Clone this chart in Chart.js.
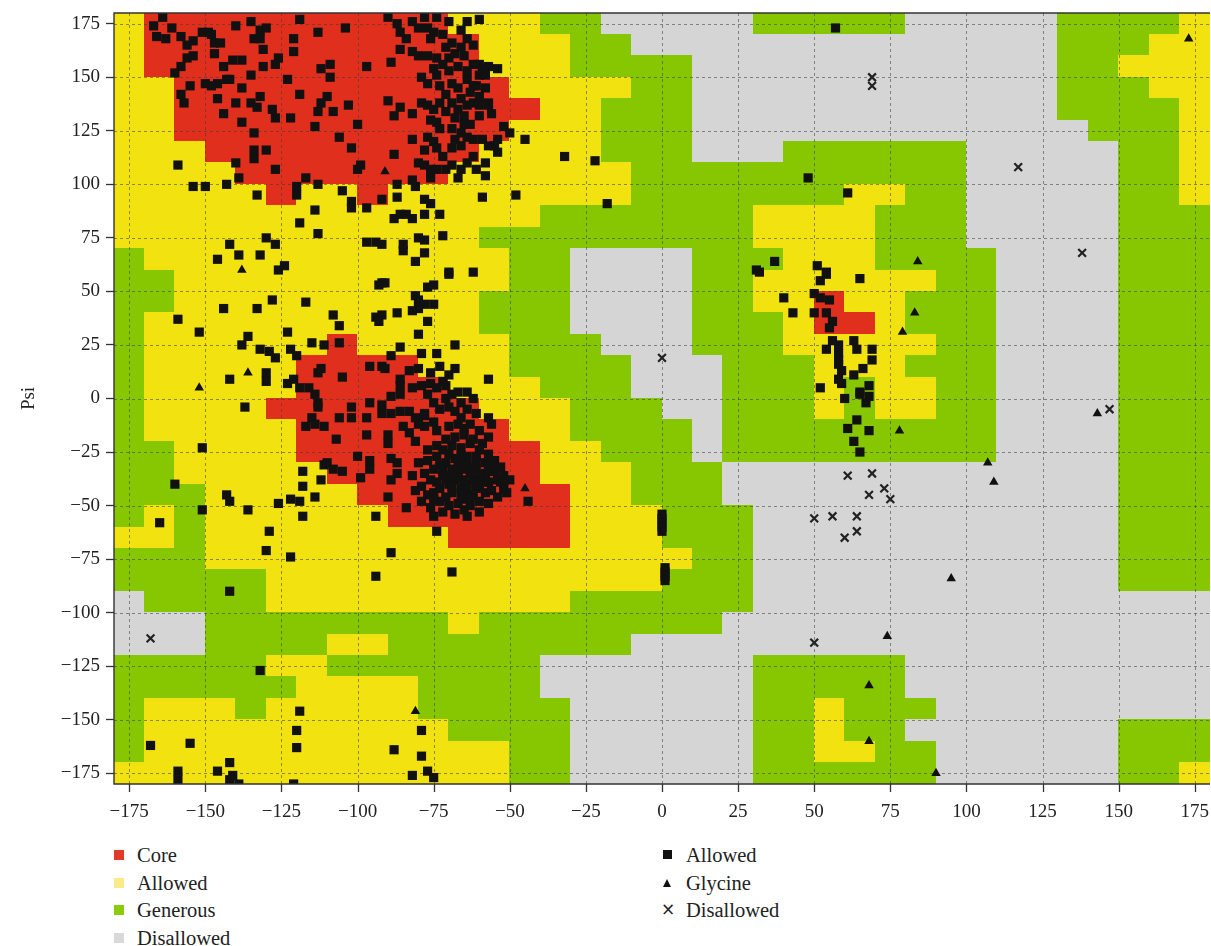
<!DOCTYPE html>
<html>
<head>
<meta charset="utf-8">
<script src="https://cdn.jsdelivr.net/npm/chart.js@4.4.0/dist/chart.umd.min.js"></script>
<style>
  html, body { margin: 0; padding: 0; background: #fff; }
  #wrap { position: relative; width: 1211px; height: 946px; overflow: hidden;
          font-family: "Liberation Serif", "DejaVu Serif", serif; color: #222; }
  #chart { position: absolute; left: 0; top: 0; }
  .lg-text { position: absolute; font-size: 20.5px; line-height: 22px; white-space: nowrap; }
  .lg-sw { position: absolute; width: 10px; height: 10px; }
</style>
</head>
<body>
<div id="wrap">
  <canvas id="chart" width="1211" height="830"></canvas>
  <div id="legend"></div>
</div>
<script>
// Axis ticks (degrees)
const tickValues = [-175, -150, -125, -100, -75, -50, -25, 0, 25, 50, 75, 100, 125, 150, 175];

// Region map: 10-degree cells, rows run from psi 180 (top) down to -180,
// columns from phi -180 to 180.  R core, Y allowed, G generous, D disallowed.
const cellSize = 10;
const regionRows = [
  "YRRRRRRRRRRYYYGGDDDDDGGGGGDDDDDGGGGY",
  "YRRRRRRRRRRRYYYGGDDDDDDDDDDDDDDGGGYY",
  "YRRRRRRRRRRRYYYGGGGDDDDDDDDDDDDGGYYY",
  "YYRRRRRRRRRRRYYYYGGDDDDDDDDDDDDGGGYY",
  "YYRRRRRRRRRRRRYYGGGDDDDDDDDDDDDGGGGY",
  "YYRRRRRRRRRRRYYYGGGDDDDDDDDDDDDDGGGY",
  "YYYRRRRRRRRRYYYYGGGDDDGGGGGGDDDDDGGY",
  "YYYYRRRRRRRYYYYYYGGGGGGGGGGGDDDDDGGY",
  "YYYYYRYYRYYYYYYYYGGGGGGGYYGGDDDDDGGY",
  "YYYYYYYYYYYYYYGGGGGGGYYYYGGGDDDDDGGG",
  "YYYYYYYYYYYYGGGGGGGGGYYYYGGGDDDDDGGG",
  "GYYYYYYYYYYYYGGDDDDGGGYYYGGGGDDDDGGG",
  "GGYYYYYYYYYYYGGDDDDGGYYYYYYGGDDDDGGG",
  "GGYYYYYYYYYYGGGDDDDGGYYRYYGGGDDDDGGG",
  "GYYYYYYYYYYYGGGDDDDGGGYRRYGGGDDDDGGG",
  "GYYYYYYRYYYYYGGGDDDGGGYYYYYGGDDDDGGG",
  "GYYYYYRRRRYYYGGGGDDDGGGYYYGGGDDDDGGG",
  "GYYYYYRRRRRYYYGGGDDDGGGYGYYGGDDDDGGG",
  "GYYYYRRRRRRRYYYGGGDDGGGYGYYGGDDDDGGG",
  "GYYYYYRRRRRRRYYGGGGDGGGGGGGGGDDDDGGG",
  "GGYYYYRRRRRRRRYYGGGDGGGGGGGGGDDDDGGG",
  "GGYYYYYRRRRRRRYYYGGGDDDDDDDDDDDDDGGG",
  "GGGYYYYYRRRRRRRYYGGGDDDDDDDDDDDDDGGG",
  "GYGYYYYYYRRRRRRYYYGGGDDDDDDDDDDDDGGG",
  "YYGYYYYYYYYRRRRYYYGGGDDDDDDDDDDDDGGG",
  "GGGYYYYYYYYYYYYYYYYGGDDDDDDDDDDDDGGG",
  "GGGGGYYYYYYYYYYYYYGGGDDDDDDDDDDDDGGG",
  "DGGGGYYYYYYYYYYGGGGGGDDDDDDDDDDDDDDD",
  "DDDGGGGGGGGYGGGGGGGGDDDDDDDDDDDDDDDD",
  "DDDGGGGYYGGGGGGGGDDDDDDDDDDDDDDDDDDD",
  "GGGGGYYGGGGGGGDDDDDDDGGGGGDDDDDDDDDD",
  "GGGGGGYYYYGGGGDDDDDDDGGGGGDDDDDDDDDD",
  "GYYYGYYYYYGGGGGDDDDDDGGYGGGDDDDDDDDD",
  "GYYYYYYYYYYGGGGDDDDDDGGYGGDDDDDDDGGG",
  "GYYYYYYYYYYYYGGDDDDDDGGYYGGDDDDDDGGG",
  "YYYYYYYYYYYYYGGDDDDDDGGGGGGDDDDDDGGY"
];
const regionColors = { R: "#e12f1d", Y: "#f2e20f", G: "#86c701", D: "#d5d5d5" };

// Residues: [phi, psi]
const allowedResidues = [
  [-164,178],[-167,174],[-161,173],[-166,169],[-163,168],[-158,169],[-154,167],[-151,171],[-149,171],[-148,170],
  [-147,166],[-145,166],[-140,174],[-135,176],[-132,172],[-130,173],[-134,168],[-132,168],[-131,163],[-121,168],
  [-121,162],[-113,171],[-104,173],[-87,175],[-74,178],[-80,173],[-77,173],[-75,171],[-72,170],[-84,168],
  [-60,177],[-76,168],[-90,178],[-86,171],[-82,176],[-78,178],[-70,176],[-66,172],[-64,176],[-119,177],
  [-156,165],[-154,160],[-156,159],[-158,155],[-160,152],[-147,161],[-144,155],[-141,158],[-138,158],[-131,155],
  [-126,159],[-127,156],[-86,163],[-82,162],[-80,160],[-77,160],[-74,159],[-70,159],[-68,161],[-65,160],
  [-97,155],[-89,157],[-62,156],[-112,154],[-109,156],[-109,150],[-123,149],[-135,151],
  [-143,149],[-146,147],[-148,146],[-150,147],[-155,146],[-158,142],[-157,138],[-146,140],[-142,149],[-140,138],
  [-138,145],[-132,141],[-135,138],[-133,136],[-128,135],[-127,131],[-122,131],[-119,142],[-112,138],[-110,141],
  [-108,134],[-113,134],[-103,137],[-90,139],[-86,136],[-88,132],[-82,133],
  [-79,150],[-74,151],[-73,146],[-69,147],[-67,145],[-64,149],[-62,146],
  [-79,138],[-77,137],[-75,135],[-73,138],[-69,138],[-67,135],[-64,137],[-62,138],
  [-76,130],[-74,129],[-68,131],[-65,132],[-63,128],[-69,126],[-66,124],[-64,122],[-62,121],
  [-82,121],[-77,122],[-75,120],[-74,117],[-69,117],[-66,118],
  [-71,164],[-69,166],[-66,164],[-64,168],[-62,165],[-67,155],[-70,153],[-72,156],[-64,153],[-75,154],
  [-77,147],[-71,142],[-66,140],[-63,143],[-60,132],[-65,128],[-71,134],[-73,126],[-68,121],[-62,113],
  [-58,110],[-61,107],[-58,104],[-72,113],[-78,116],
  [-100,128],[-106,122],[-102,117],[-114,127],[-138,129],[-144,133],[-134,124],[-134,116],[-130,116],[-134,112],
  [-140,110],[-139,103],[-143,100],[-150,99],[-154,99],[-159,109],[-127,107],[-117,103],[-113,100],[-120,99],
  [-99,109],[-100,107],[-88,114],
  [-80,110],[-78,109],[-76,107],[-74,107],[-71,107],[-69,109],[-66,107],[-64,110],
  [-87,100],[-82,102],[-81,99],[-76,103],[-67,103],
  [-133,95],[-120,95],[-114,88],[-119,82],[-113,77],[-130,75],[-127,72],[-142,72],[-139,67],[-146,65],
  [-132,67],[-126,60],[-124,62],[-105,97],[-102,92],[-102,89],[-97,89],[-92,93],[-97,73],[-94,73],
  [-92,72],[-88,84],[-86,86],[-84,86],[-82,84],[-87,94],[-78,93],[-76,91],[-78,86],[-73,86],
  [-80,75],[-78,74],[-85,72],[-85,69],[-78,68],[-81,64],[-72,76],[-70,59],
  [-60,156],[-59,154],[-57,155],[-54,154],[-60,151],[-58,151],[-61,146],[-58,145],[-60,141],[-57,138],
  [-57,137],[-56,133],[-60,137],[-52,127],[-50,124],[-45,121],[-54,121],[-55,118],[-54,115],[-59,121],
  [-57,118],[-32,113],[-22,111],[-59,94],[-48,95],[-18,91],
  [57,173],[48,103],[61,96],[37,64],[31,60],[51,62],[54,59],[65,56],
  [-92,54],[-91,54],[-93,53],[-70,58],[-62,59],[-77,52],[-75,53],[-81,48],[-80,46],[-78,44],
  [-75,44],[-82,41],[-80,42],[-77,36],[-80,30],[-87,40],[-92,39],[-94,38],[-93,36],[-108,39],
  [-106,34],[-117,45],[-128,46],[-133,42],[-144,42],[-159,37],[-152,31],[-136,29],[-138,25],[-132,23],
  [-129,22],[-127,19],[-123,31],[-122,23],[-120,20],[-115,26],[-111,25],[-106,26],[-86,24],[-68,25],
  [-79,21],[-74,21],[-89,20],
  [-142,9],[-130,12],[-130,8],[-123,7],[-121,9],[-119,5],[-116,5],[-113,12],[-112,14],[-105,10],
  [-96,15],[-92,15],[-91,14],[-83,13],[-80,14],[-86,9],[-86,6],[-82,5],[-79,6],[-76,7],
  [-74,5],[-71,6],[-69,2],[-64,3],
  [-137,-4],[-114,2],[-113,-2],[-113,-4],[-102,-4],[-102,-9],[-97,-9],[-96,-2],[-92,-3],[-89,1],
  [-86,2],[-92,-7],[-89,-7],[-86,-6],[-83,-6],[-81,-9],[-78,-7],
  [-115,-9],[-117,-13],[-114,-12],[-111,-13],[-106,-9],[-107,-19],[-97,-17],[-90,-17],[-85,-13],[-83,-16],
  [-81,-20],[-78,-13],[-75,-11],[-74,-15],[-70,-13],[-67,-12],[-65,-14],
  [-151,-23],[-160,-40],[-118,-34],[-118,-41],[-112,-38],[-114,-46],[-111,-31],[-110,-30],[-108,-33],[-105,-34],
  [-100,-27],[-96,-29],[-96,-33],[-99,-37],[-90,-21],[-89,-28],[-87,-30],[-89,-38],[-87,-35],[-90,-46],
  [-94,-55],[-84,-51],[-75,-55],[-74,-62],[-65,-52],[-143,-45],[-142,-48],[-136,-52],[-151,-52],[-165,-58],
  [-126,-49],[-122,-47],[-119,-48],[-118,-55],[-129,-62],
  [-77,2],[-75,-2],[-73,-5],[-71,0],[-70,-4],[-68,-6],[-66,-2],[-64,-5],[-62,0],[-67,3],
  [-72,8],[-70,11],[-68,14],[-73,15],[-76,12],[-78,-8],[-80,-12],[-66,-9],[-61,-7],[-63,-12],
  [-60,-15],[-57,-18],[-56,-12],
  [-70,-40],[-68,-38],[-66,-42],[-64,-40],[-62,-38],[-60,-41],[-72,-36],[-74,-39],[-67,-35],[-65,-33],
  [-63,-35],[-61,-33],[-59,-36],[-69,-44],[-71,-46],[-65,-47],[-62,-45],[-58,-44],[-57,-39],[-73,-42],
  [-76,-38],[-75,-33],[-71,-30],[-68,-28],[-66,-31],[-64,-27],[-61,-29],[-58,-30],[-55,-34],[-54,-38],
  [-56,-43],[-60,-48],[-63,-50],[-67,-49],[-70,-50],[-73,-48],[-77,-45],[-79,-41],[-78,-35],[-77,-29],
  [-74,-27],[-72,-24],[-69,-22],[-66,-23],[-63,-21],[-60,-24],[-57,-26],[-55,-29],[-53,-32],[-52,-36],
  [-67,-37],[-69,-33],[-71,-38],[-64,-43],[-62,-32],[-66,-45],[-59,-39],[-61,-27],[-75,-44],[-73,-31],
  [-70,-26],[-68,-18],[-65,-17],[-62,-19],[-59,-21],[-71,-19],[-74,-22],[-77,-24],[-80,-30],[-82,-36],
  [-81,-43],[-79,-48],[-76,-51],[-72,-53],[-68,-54],[-64,-55],[-60,-53],[-57,-49],[-54,-46],[-52,-42],
  [-50,-38],[-63,-46],[-67,-32],[-65,-38],[-61,-42],[-69,-41],[-58,-35],[-72,-34],[-66,-27],[-75,-47],
  [-64,-31],[-60,-36],[-70,-36],
  [32,59],[40,47],[43,40],[50,40],[54,40],[50,49],[52,47],[55,46],[52,55],[54,58],
  [55,33],[56,36],[56,27],[58,25],[54,23],[58,16],[58,9],[52,5],[60,0],[-57,9],
  [-57,-9],[-52,-41],[-51,-44],[-53,-39],[-57,-34],[-56,-30],[-44,-48],
  [0,-54],[0,-56],[0,-58],[0,-60],[0,-62],[1,-79],[1,-81],[1,-83],[1,-85],
  [63,27],[64,23],[69,23],[69,18],[66,14],[63,11],[68,6],[65,3],[65,2],[68,1],
  [67,-2],[59,7],[59,13],[58,21],[58,18],[64,-10],[61,-14],[68,-15],[63,-20],[65,-25],
  [-130,-71],[-122,-74],[-89,-72],[-69,-81],[-94,-83],[-142,-90],[-132,-127],[-119,-146],[-120,-155],[-120,-163],
  [-79,-155],[-88,-164],[-79,-167],[-82,-176],[-77,-174],[-75,-177],[-168,-162],[-155,-161],[-159,-174],[-159,-178],
  [-146,-174],[-142,-170],[-141,-176],[-142,-178],[-139,-180],[-121,-180]
];
const glycineResidues = [
  [-91,106],[-138,60],[-136,12],[-152,5],[-45,-42],[173,168],[84,64],[83,40],[79,31],[78,-15],
  [107,-30],[109,-39],[143,-7],[95,-84],[74,-111],[68,-134],[68,-160],[90,-175],[-81,-146]
];
const disallowedResidues = [
  [69,150],[69,146],[117,108],[138,68],[0,19],[147,-5],[61,-36],[69,-35],[68,-45],[73,-42],
  [75,-47],[64,-55],[50,-56],[56,-55],[60,-65],[64,-62],[50,-114],[-168,-112]
];

const regionLegend = ["Core", "Allowed", "Generous", "Disallowed"];
const regionLegendKeys = ["R", "Y", "G", "D"];
const regionLegendColors = { R: "#e3392a", Y: "#fbe98a", G: "#8ccb0c", D: "#d9d9d9" };
const residueLegend = ["Allowed", "Glycine", "Disallowed"];

const toXY = arr => arr.map(p => ({ x: p[0], y: p[1] }));
const fmt = v => (v < 0 ? "\u2212" + Math.abs(v) : String(v));
const tickMarkLength = 8;

// Background region cells, dashed grid, frame and x tick marks
const regionPlugin = {
  id: "regionMap",
  beforeDatasetsDraw(chart) {
    const { ctx, chartArea: a, scales: { x, y } } = chart;
    ctx.save();
    ctx.beginPath();
    ctx.rect(a.left, a.top, a.right - a.left, a.bottom - a.top);
    ctx.clip();
    regionRows.forEach((row, j) => {
      const psiTop = 180 - cellSize * j;
      const y0 = Math.floor(y.getPixelForValue(psiTop));
      const y1 = Math.ceil(y.getPixelForValue(psiTop - cellSize));
      for (let i = 0; i < row.length; i++) {
        const phiL = -180 + cellSize * i;
        const x0 = Math.floor(x.getPixelForValue(phiL));
        const x1 = Math.ceil(x.getPixelForValue(phiL + cellSize));
        ctx.fillStyle = regionColors[row[i]];
        ctx.fillRect(x0, y0, x1 - x0, y1 - y0);
      }
    });
    ctx.setLineDash([3, 3]);
    ctx.lineWidth = 1;
    ctx.strokeStyle = "rgba(60,60,60,0.55)";
    tickValues.forEach(v => {
      const px = Math.round(x.getPixelForValue(v)) + 0.5;
      ctx.beginPath(); ctx.moveTo(px, a.top); ctx.lineTo(px, a.bottom); ctx.stroke();
      const py = Math.round(y.getPixelForValue(v)) + 0.5;
      ctx.beginPath(); ctx.moveTo(a.left, py); ctx.lineTo(a.right, py); ctx.stroke();
    });
    ctx.restore();
  },
  afterDraw(chart) {
    const { ctx, chartArea: a, scales: { x } } = chart;
    ctx.save();
    ctx.strokeStyle = "#333";
    ctx.lineWidth = 1.3;
    tickValues.forEach(v => {
      const px = Math.round(x.getPixelForValue(v)) + 0.5;
      ctx.beginPath(); ctx.moveTo(px, a.bottom); ctx.lineTo(px, a.bottom + tickMarkLength); ctx.stroke();
    });
    ctx.lineWidth = 1.4;
    ctx.beginPath();
    ctx.moveTo(a.right, a.top); ctx.lineTo(a.left, a.top);
    ctx.lineTo(a.left, a.bottom); ctx.lineTo(a.right, a.bottom);
    ctx.stroke();
    ctx.restore();
  }
};

const serif = "'Liberation Serif', 'DejaVu Serif', serif";
const noPadding = s => { s.paddingLeft = 0; s.paddingRight = 0; s.paddingTop = 0; s.paddingBottom = 0; };
const tickFont = { family: serif, size: 19 };
const buildTicks = s => { s.ticks = tickValues.map(v => ({ value: v })); };

new Chart(document.getElementById("chart"), {
  type: "scatter",
  data: {
    datasets: [
      { label: "Allowed", data: toXY(allowedResidues), pointStyle: "rect", pointRadius: 6.5,
        backgroundColor: "#111", borderWidth: 0, clip: 0 },
      { label: "Glycine", data: toXY(glycineResidues), pointStyle: "triangle", pointRadius: 5.5,
        backgroundColor: "#111", borderWidth: 0, clip: 0 },
      { label: "Disallowed", data: toXY(disallowedResidues), pointStyle: "crossRot", pointRadius: 5.5,
        borderColor: "#222", borderWidth: 2.2, backgroundColor: "#222", clip: 0 }
    ]
  },
  options: {
    responsive: false,
    maintainAspectRatio: false,
    animation: false,
    devicePixelRatio: 1,
    layout: { autoPadding: false, padding: { top: 13, right: 1, left: 0, bottom: 0 } },
    plugins: { legend: { display: false }, tooltip: { enabled: false } },
    events: [],
    scales: {
      x: {
        type: "linear", position: "bottom", min: -180, max: 180,
        afterBuildTicks: buildTicks,
        // label offset comes from the (invisible) tick length; the marks are drawn by the plugin
        grid: { drawOnChartArea: false, drawTicks: true, tickLength: 17, tickColor: "rgba(0,0,0,0)" },
        border: { display: false },
        ticks: { autoSkip: false, maxRotation: 0, padding: 0, color: "#222", font: tickFont, callback: v => fmt(v) },
        afterFit: s => { s.height = 46; noPadding(s); }
      },
      y: {
        type: "linear", position: "left", min: -180, max: 180,
        afterBuildTicks: buildTicks,
        grid: { drawOnChartArea: false, drawTicks: true, tickLength: 8, tickColor: "#333", tickWidth: 1.3 },
        border: { display: false },
        ticks: { autoSkip: false, padding: 6, color: "#222", font: tickFont, callback: v => fmt(v) },
        afterFit: s => { s.width = 114; noPadding(s); },
        title: { display: true, text: "Psi", color: "#222", font: { family: serif, size: 19 },
                 padding: { top: 18, bottom: 0 } }
      }
    }
  },
  plugins: [regionPlugin]
});

// Legend below the plot
(function buildLegend() {
  const host = document.getElementById("legend");
  const rowY = [855, 882.5, 910, 937.5];
  regionLegend.forEach((label, i) => {
    const sw = document.createElement("div");
    sw.className = "lg-sw";
    sw.style.left = "114px";
    sw.style.top = (rowY[i] - 5) + "px";
    sw.style.background = regionLegendColors[regionLegendKeys[i]];
    host.appendChild(sw);
    const t = document.createElement("div");
    t.className = "lg-text";
    t.style.left = "137px";
    t.style.top = (rowY[i] - 11) + "px";
    t.textContent = label;
    host.appendChild(t);
  });
  residueLegend.forEach((label, i) => {
    const m = document.createElement("div");
    m.style.position = "absolute";
    if (i === 0) {
      Object.assign(m.style, { left: "663px", top: (rowY[i] - 5) + "px", width: "9px", height: "9px", background: "#111" });
    } else if (i === 1) {
      Object.assign(m.style, { left: "663px", top: (rowY[i] - 4) + "px", width: "0", height: "0",
        borderLeft: "4px solid transparent", borderRight: "4px solid transparent", borderBottom: "8px solid #111" });
    } else {
      Object.assign(m.style, { left: "661px", top: (rowY[i] - 11) + "px", fontFamily: "'DejaVu Sans', sans-serif",
        fontSize: "17px", lineHeight: "20px", color: "#222" });
      m.textContent = "\u00d7";
    }
    host.appendChild(m);
    const t = document.createElement("div");
    t.className = "lg-text";
    t.style.left = "686px";
    t.style.top = (rowY[i] - 11) + "px";
    t.textContent = label;
    host.appendChild(t);
  });
})();
</script>
</body>
</html>
